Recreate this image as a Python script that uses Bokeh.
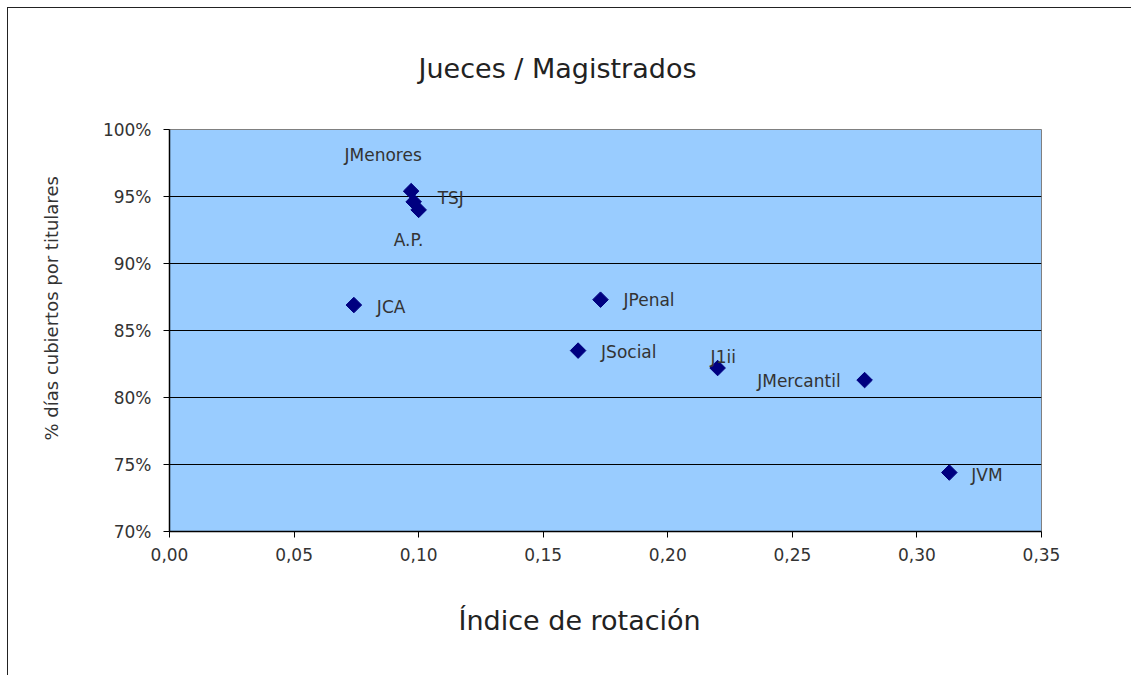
from bokeh.plotting import figure
from bokeh.models import ColumnDataSource, Range1d, FixedTicker, Title
from bokeh.core.properties import value
from bokeh.embed import file_html
from bokeh.resources import INLINE
import math

# ---- data ----
organos = ["JMenores", "TSJ", "A.P.", "JCA", "JPenal", "JSocial", "J1ii", "JMercantil", "JVM"]
indice_rotacion = [0.097, 0.098, 0.100, 0.074, 0.173, 0.164, 0.220, 0.279, 0.313]
pct_cubiertos = [0.954, 0.946, 0.940, 0.869, 0.873, 0.835, 0.822, 0.813, 0.744]

x_ticks = [0.00, 0.05, 0.10, 0.15, 0.20, 0.25, 0.30, 0.35]
x_tick_labels = ["0,00", "0,05", "0,10", "0,15", "0,20", "0,25", "0,30", "0,35"]
y_ticks = [0.70, 0.75, 0.80, 0.85, 0.90, 0.95, 1.00]
y_tick_labels = ["70%", "75%", "80%", "85%", "90%", "95%", "100%"]

title_text = "Jueces / Magistrados"
x_title = "Índice de rotación"
y_title = "% días cubiertos por titulares"

# ---- label placement (style) ----
label_dx = [-28, 24, -10, 23, 23, 23, -7, -24, 22]
label_dy = [-36, -4, 30, 2, 0, 1, -11, 1, 2]
label_align = ["center", "left", "center", "left", "left", "left", "left", "right", "left"]

FONT = "DejaVu Sans"
TXT = "#333333"

src = ColumnDataSource(dict(x=indice_rotacion, y=pct_cubiertos, name=organos,
                            dx=label_dx, dy=label_dy, al=label_align))

p = figure(width=1131, height=675, output_backend="svg", toolbar_location=None,
           x_range=Range1d(0, 0.35), y_range=Range1d(0.70, 1.00),
           min_border_left=169, min_border_right=90, min_border_top=129, min_border_bottom=144)
p.styles = {"box-shadow": "inset 7px 7px 0 0 white, inset 8px 8px 0 0 #222222"}

p.background_fill_color = "#99CCFF"
p.border_fill_color = None
p.outline_line_color = "#808080"
p.outline_line_width = 1

p.xgrid.visible = False
p.ygrid.ticker = FixedTicker(ticks=y_ticks[1:-1])
p.ygrid.grid_line_color = "black"
p.ygrid.grid_line_width = 1

p.xaxis.ticker = FixedTicker(ticks=x_ticks)
p.xaxis.major_label_overrides = {t: l for t, l in zip(x_ticks, x_tick_labels)}
p.yaxis.ticker = FixedTicker(ticks=y_ticks)
p.yaxis.major_label_overrides = {t: l for t, l in zip(y_ticks, y_tick_labels)}

for ax in (p.xaxis[0], p.yaxis[0]):
    ax.axis_line_color = "black"
    ax.axis_line_width = 1.5
    ax.major_tick_line_color = "black"
    ax.major_tick_out = 6
    ax.major_tick_in = 0
    ax.minor_tick_out = 0
    ax.minor_tick_in = 0
    ax.major_label_text_font = FONT
    ax.major_label_text_font_size = "17px"
    ax.major_label_text_color = TXT
p.xaxis.major_label_standoff = 10
p.yaxis.major_label_standoff = 12

p.title.text = title_text
p.title.align = "left"
p.title.offset = 249
p.title.text_font = FONT
p.title.text_font_size = "27px"
p.title.text_font_style = "normal"
p.title.text_color = "#222222"
p.title.standoff = 92

p.add_layout(Title(text=x_title, align="left", offset=289, text_font=FONT,
                   text_font_size="27px", text_font_style="normal",
                   text_color="#222222", standoff=79), "below")
p.add_layout(Title(text=y_title, align="left", offset=91, text_font=FONT,
                   text_font_size="18px", text_font_style="normal",
                   text_color=TXT, standoff=76), "left")

p.scatter("x", "y", source=src, marker="square", size=11, angle=math.pi / 4,
          fill_color="#000080", line_color="#000080")
p.text("x", "y", text="name", source=src, x_offset="dx", y_offset="dy",
       text_align="al", text_baseline="middle", text_font=value(FONT),
       text_font_size=value("17px"), text_color=TXT)

open("out.html", "w").write(file_html(p, INLINE))
